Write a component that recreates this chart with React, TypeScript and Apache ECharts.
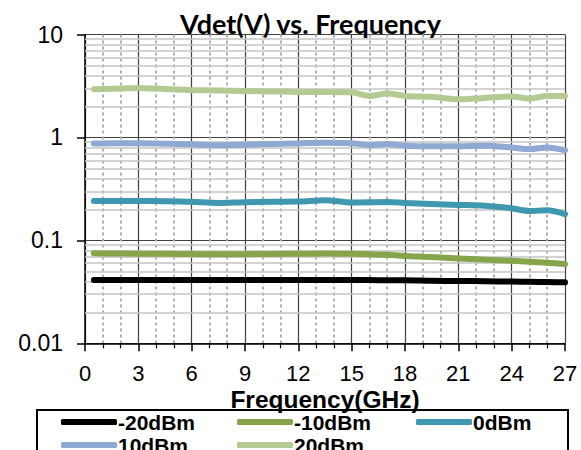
import React, { useEffect, useRef } from "react";
import * as echarts from "echarts";

const freqs = [0.5, 1.5, 3, 4.5, 6, 7.5, 9, 10.5, 12, 13.5, 15, 16, 17, 18, 19.5, 21, 22.5, 24, 25, 26, 27];
const vM20 = [0.0413, 0.0413, 0.0413, 0.0413, 0.0413, 0.0413, 0.0413, 0.0413, 0.0413, 0.0413, 0.0412, 0.0411, 0.041, 0.041, 0.0405, 0.0403, 0.0401, 0.0398, 0.0396, 0.0394, 0.0391];
const vM10 = [0.0748, 0.0746, 0.0743, 0.074, 0.0736, 0.0732, 0.0735, 0.0739, 0.074, 0.0744, 0.074, 0.0735, 0.0725, 0.0706, 0.069, 0.0668, 0.065, 0.0634, 0.062, 0.0605, 0.0589];
const v0 = [0.241, 0.241, 0.241, 0.24, 0.237, 0.231, 0.235, 0.237, 0.238, 0.246, 0.233, 0.234, 0.236, 0.231, 0.225, 0.221, 0.217, 0.205, 0.193, 0.196, 0.18];
const v10 = [0.874, 0.876, 0.878, 0.87, 0.86, 0.84, 0.85, 0.865, 0.875, 0.89, 0.88, 0.84, 0.865, 0.83, 0.82, 0.82, 0.83, 0.8, 0.77, 0.8, 0.75];
const v20 = [2.94, 2.97, 3.03, 2.95, 2.88, 2.86, 2.82, 2.8, 2.77, 2.77, 2.74, 2.53, 2.67, 2.53, 2.48, 2.35, 2.42, 2.5, 2.39, 2.53, 2.53];

const seriesNames = ["-20dBm", "-10dBm", "0dBm", "10dBm", "20dBm"];
const seriesValues = [vM20, vM10, v0, v10, v20];
const seriesColors = ["#000000", "#86a44a", "#3f97b0", "#8fa9d2", "#b3cb93"];
const minorLogLines = [0.02, 0.03, 0.04, 0.05, 0.06, 0.07, 0.08, 0.09, 0.2, 0.3, 0.4, 0.5, 0.6, 0.7, 0.8, 0.9, 2, 3, 4, 5, 6, 7, 8, 9];

// legend cell placement (column x, row y) for each series
const legendLeft = [61, 237, 416, 61, 237];
const legendTop = [411.5, 411.5, 411.5, 434.5, 434.5];

export default function App() {
  const ref = useRef<HTMLDivElement>(null);
  useEffect(() => {
    if (!ref.current) return;
    const chart = echarts.init(ref.current, undefined, { renderer: "svg" });
    const lineSeries = seriesNames.map((name, i) => ({
      name,
      type: "line",
      data: freqs.map((f, j) => [f, seriesValues[i][j]]),
      smooth: 0.3,
      showSymbol: false,
      symbol: "none",
      z: 3,
      lineStyle: { color: seriesColors[i], width: 6, cap: "round", join: "round" },
      itemStyle: { color: seriesColors[i] },
    }));
    const legends = seriesNames.map((name, i) => ({
      orient: "horizontal",
      icon: "roundRect",
      itemWidth: 56,
      itemHeight: 6,
      padding: 0,
      data: [name],
      left: legendLeft[i],
      top: legendTop[i],
      textStyle: { fontFamily: "Arial, Liberation Sans", fontWeight: "bold", fontSize: 21, color: "#000", padding: [0, 0, 0, -4] },
    }));
    chart.setOption({
      animation: false,
      backgroundColor: "#ffffff",
      title: {
        text: "Vdet(V) vs. Frequency",
        left: 180,
        top: 10,
        padding: 0,
        textStyle: { fontFamily: "Lato", fontWeight: "bold", fontSize: 27, color: "#000" },
      },
      grid: { left: 85, right: 16, top: 34.5, height: 308.8, containLabel: false },
      xAxis: {
        type: "value",
        min: 0,
        max: 27,
        interval: 3,
        name: "Frequency(GHz)",
        nameLocation: "middle",
        nameGap: 46,
        nameMoveOverlap: false,
        nameTextStyle: { fontFamily: "Arial, Liberation Sans", fontWeight: "bold", fontSize: 24.5, lineHeight: 20, color: "#000" },
        axisLine: { show: true, lineStyle: { color: "#000", width: 1.5 } },
        axisTick: { show: true, inside: false, length: 8, lineStyle: { color: "#000", width: 1.5 } },
        minorTick: { show: true, splitNumber: 3, length: 5, lineStyle: { color: "#000", width: 1.2 } },
        axisLabel: { fontFamily: "Arial, Liberation Sans", fontSize: 22, lineHeight: 18, color: "#000", margin: 21.5 },
        splitLine: { show: true, lineStyle: { color: "#404040", width: 1.2 } },
        minorSplitLine: { show: true, lineStyle: { color: "#b0b0b0", width: 2, type: [3, 3] } },
      },
      yAxis: {
        type: "log",
        logBase: 10,
        min: 0.01,
        max: 10,
        axisLine: { show: true, lineStyle: { color: "#000", width: 1.5 } },
        axisTick: { show: true, inside: false, length: 8, lineStyle: { color: "#000", width: 1.5 } },
        axisLabel: {
          fontFamily: "Arial, Liberation Sans",
          fontSize: 23,
          color: "#000",
          margin: 22,
          formatter: (v: number) => String(Number(v.toPrecision(3))),
        },
        splitLine: { show: true, lineStyle: { color: "#404040", width: 1.2 } },
      },
      legend: legends,
      graphic: [
        {
          type: "rect",
          shape: { x: 37, y: 410, width: 531, height: 60 },
          style: { fill: "none", stroke: "#000", lineWidth: 2 },
          silent: true,
        },
      ],
      series: [
        {
          name: "grid-minor",
          type: "line",
          data: [],
          z: 1,
          silent: true,
          markLine: {
            z: 1,
            silent: true,
            symbol: "none",
            animation: false,
            label: { show: false },
            lineStyle: { color: "#c4c4c4", width: 1.5, type: "solid" },
            emphasis: { disabled: true },
            data: minorLogLines.map((v) => ({ yAxis: v })),
          },
        },
        ...lineSeries,
      ],
    });
    return () => chart.dispose();
  }, []);
  return <div ref={ref} style={{ position: "fixed", left: 0, top: 0, width: 581, height: 450 }} />;
}
